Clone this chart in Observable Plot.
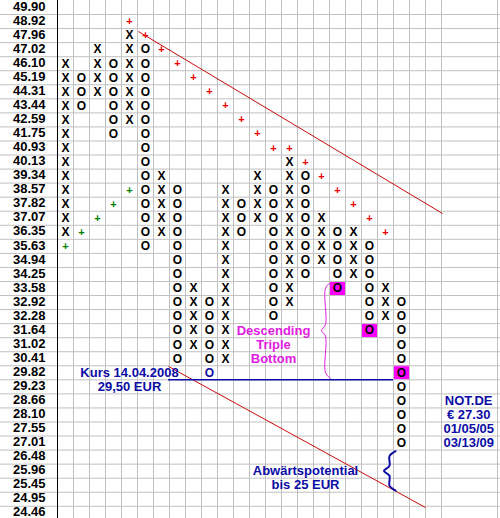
<!DOCTYPE html>
<html>
<head>
<meta charset="utf-8">
<script src="https://cdn.jsdelivr.net/npm/d3@7"></script>
<script src="https://cdn.jsdelivr.net/npm/@observablehq/plot@0.6"></script>
<style>
  html, body { margin: 0; padding: 0; background: white; }
  #chart svg { display: block; }
</style>
</head>
<body>
<div id="chart"></div>
<script>
// Box prices (rows, top to bottom)
const prices = ["49.90","48.92","47.96","47.02","46.10","45.19","44.31","43.44","42.59","41.75",
  "40.93","40.13","39.34","38.57","37.82","37.07","36.35","35.63","34.94","34.25",
  "33.58","32.92","32.28","31.64","31.02","30.41","29.82","29.23","28.66","28.10",
  "27.55","27.01","26.48","25.96","25.45","24.95","24.46"];

// Point & figure columns
const colType = ["X","O","X","O","X","O","X","O","X","O","X","O","X","O","X","O","X","O","X","O","X","O"];
const colHigh = ["46.10","45.19","47.02","46.10","47.96","47.02","39.34","38.57","33.58","32.92","38.57",
  "37.82","39.34","38.57","40.13","39.34","37.07","36.35","36.35","35.63","33.58","32.92"];
const colLow  = ["36.35","43.44","44.31","41.75","42.59","35.63","36.35","30.41","31.02","29.82","30.41",
  "36.35","37.07","32.28","32.92","34.25","34.94","33.58","34.25","31.64","32.28","27.01"];

// Resistance (red +) starting at column 4, support (green +) starting at column 0
const resistStart = 4;
const resistPrices = ["48.92","47.96","47.02","46.10","45.19","44.31","43.44","42.59","41.75","40.93",
  "40.93","40.13","39.34","38.57","37.82","37.07","36.35"];
const supportStart = 0;
const supportPrices = ["35.63","36.35","37.07","37.82","38.57"];

// Highlighted boxes (triple bottom) and marked box (Kurs 14.04.2008)
const hlCols = [17, 19, 21];
const hlPrices = ["33.58","31.64","29.82"];
const markCols = [9];
const markPrices = ["29.82"];

// Tick labels / annotation texts
const kursText = ["Kurs 14.04.2008", "29,50 EUR"];
const patternText = ["Descending", "Triple", "Bottom"];
const targetText = ["Abwärtspotential", "bis 25 EUR"];
const infoText = ["NOT.DE", "€ 27.30", "01/05/05", "03/13/09"];

const row = p => prices.indexOf(p);

const boxes = [];
colType.forEach((t, c) => {
  for (let r = row(colHigh[c]); r <= row(colLow[c]); r++) {
    const marked = markCols.some((mc, i) => mc === c && row(markPrices[i]) === r);
    boxes.push({c, r, t, marked});
  }
});
const blackBoxes = boxes.filter(d => !d.marked);
const blueBoxes = boxes.filter(d => d.marked);
const resist = resistPrices.map((p, i) => ({c: resistStart + i, r: row(p)}));
const support = supportPrices.map((p, i) => ({c: supportStart + i, r: row(p)}));
const highlights = hlCols.map((c, i) => ({c, r: row(hlPrices[i])}));

const colEdges = d3.range(0, 25).map(k => k - 0.5).concat([27]);
const rowEdges = d3.range(0, 36).map(r => r + 0.5);

function brace(xEnd, xMid, xTip, y1, y2, d) {
  const ym = (y1 + y2) / 2;
  return [
    {x: xEnd, y: y1}, {x: xMid, y: y1 + d}, {x: xMid, y: ym - d},
    {x: xTip, y: ym}, {x: xMid, y: ym + d}, {x: xMid, y: y2 - d}, {x: xEnd, y: y2}
  ];
}

const blue = "#0c0ca6";
const magenta = "#e020e0";
const red = "#c80c0c";
const font = "'Liberation Sans', Arial, sans-serif";

const chart = Plot.plot({
  width: 500,
  height: 518,
  margin: 0,
  x: {domain: [-65 / 16, 435 / 16], range: [0, 500], axis: null},
  y: {domain: [-7 / 14.05, 511 / 14.05], range: [0, 518], axis: null},
  style: {fontFamily: font, background: "white", fontWeight: "bold"},
  marks: [
    Plot.rect(highlights, {x1: d => d.c - 0.5, x2: d => d.c + 0.5, y1: d => d.r - 0.5, y2: d => d.r + 0.5, fill: "#ff00ff"}),
    Plot.ruleX(colEdges, {stroke: "#c0c0c0"}),
    Plot.ruleY(rowEdges, {stroke: "#c0c0c0"}),
    Plot.ruleX([-0.5], {stroke: "black"}),
    Plot.axisY(d3.range(prices.length), {
      anchor: "left", tickSize: 0, tickPadding: 0, dx: 45, dy: -1,
      tickFormat: i => prices[i], fontSize: 13, fontWeight: "bold", fill: "black", textAnchor: "end"
    }),
    // trend lines
    Plot.link([{x1: 4.56, y1: 1.71, x2: 23.56, y2: 14.66}], {x1: "x1", y1: "y1", x2: "x2", y2: "y2", stroke: red, strokeWidth: 1}),
    Plot.link([{x1: 6.44, y1: 25.55, x2: 22.5, y2: 35.59}], {x1: "x1", y1: "y1", x2: "x2", y2: "y2", stroke: red, strokeWidth: 1}),
    Plot.ruleY([26.5], {x1: 6.44, x2: 20.5, stroke: blue, strokeWidth: 1.5}),
    // boxes
    Plot.text(blackBoxes, {x: "c", y: "r", text: "t", fill: "black", fontSize: 12, fontWeight: "bold"}),
    Plot.text(blueBoxes, {x: "c", y: "r", text: "t", fill: blue, fontSize: 12, fontWeight: "bold"}),
    Plot.text(resist, {x: "c", y: "r", text: () => "+", fill: "#ee0000", fontSize: 11, fontWeight: "bold"}),
    Plot.text(support, {x: "c", y: "r", text: () => "+", fill: "#008000", fontSize: 11, fontWeight: "bold"}),
    // annotations
    Plot.text(kursText, {x: 4.0, y: (d, i) => 26 + i, text: d => d, fill: blue, fontSize: 13, fontWeight: "bold"}),
    Plot.text(patternText, {x: 13.0, y: (d, i) => 23 + i, text: d => d, fill: magenta, fontSize: 13, fontWeight: "bold"}),
    Plot.text(targetText, {x: 15.0, y: (d, i) => 33 + i, text: d => d, fill: blue, fontSize: 13, fontWeight: "bold"}),
    Plot.text(infoText, {x: 25.2, y: (d, i) => 28 + i, text: d => d, fill: blue, fontSize: 13, fontWeight: "bold"}),
    Plot.line(brace(16.56, 16.25, 16.0, 19.57, 26.4, 0.4), {x: "x", y: "y", stroke: magenta, strokeWidth: 1, curve: "catmull-rom"}),
    Plot.line(brace(20.63, 20.25, 19.9, 31.58, 34.38, 0.35), {x: "x", y: "y", stroke: blue, strokeWidth: 2, curve: "catmull-rom"})
  ]
});
document.getElementById("chart").appendChild(chart);
</script>
</body>
</html>
